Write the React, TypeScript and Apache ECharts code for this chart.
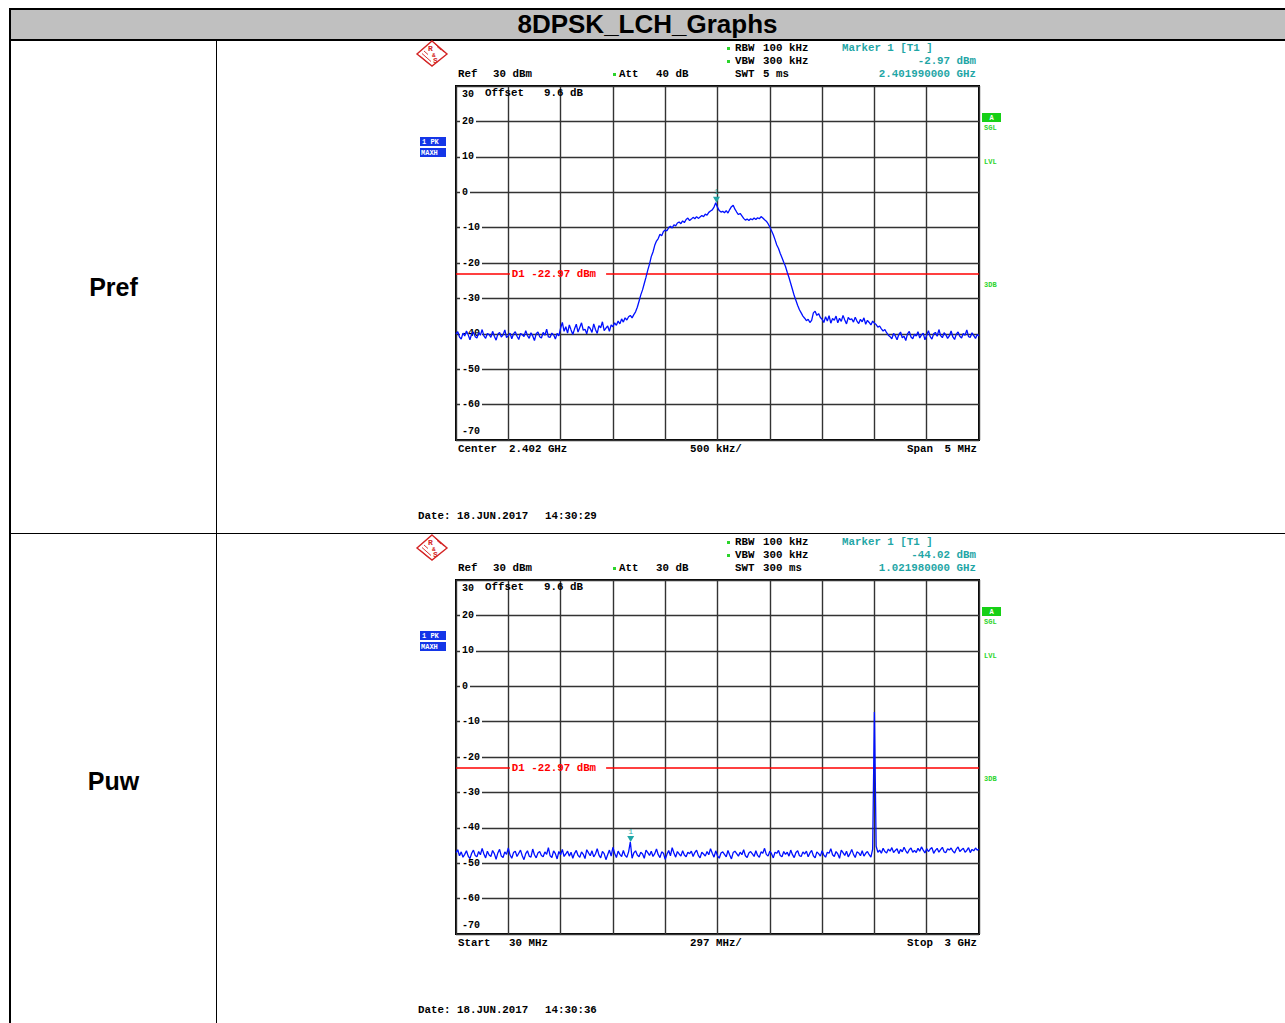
import React, { useEffect, useRef } from 'react';
import * as echarts from 'echarts';

// ---------------- data ----------------
const TITLE = '8DPSK_LCH_Graphs';
const ROW_LABELS = ['Pref', 'Puw'];

const Y_MIN = -70;
const Y_MAX = 30;
const Y_STEP = 10;
const DIVISIONS = 10;

const DISPLAY_LINE_DBM = -22.97;
const DISPLAY_LINE_LABEL = 'D1 -22.97 dBm';

// Pref: centre 2.402 GHz, span 5 MHz (values in MHz), 301 sweep points
const PREF_START_MHZ = 2399.5;
const PREF_STOP_MHZ = 2404.5;
const PREF_TRACE = [
  -40.1, -39.4, -40.9, -41.5, -39.8, -40.6, -39.2, -40.3, -41.7, -40.0,
  -39.5, -40.8, -41.2, -39.7, -40.4, -38.8, -40.6, -41.3, -39.9, -40.2,
  -41.0, -39.3, -40.7, -41.8, -40.1, -39.6, -40.9, -40.3, -38.9, -41.1,
  -40.5, -39.8, -41.4, -40.0, -39.4, -40.7, -41.6, -39.9, -40.2, -40.8,
  -39.1, -40.5, -41.3, -39.7, -40.6, -41.9, -40.0, -39.5, -40.8, -41.2,
  -39.6, -40.4, -38.7, -40.9, -41.0, -39.8, -40.3, -41.5, -39.9, -40.6,
  -38.4, -36.8, -39.3, -38.0, -39.8, -37.5, -38.9, -40.2, -38.6, -37.3,
  -39.5, -38.2, -36.9, -39.0, -38.7, -40.0, -37.9, -38.5, -39.6, -37.2,
  -38.8, -39.9, -37.7, -38.3, -36.6, -39.1, -38.4, -37.8, -39.3, -37.5,
  -38.0, -36.9, -37.6, -36.4, -37.2, -35.8, -36.7, -35.5, -36.1, -35.2,
  -34.8, -35.5, -34.6,
  -33.8, -32.5, -30.8, -29.0, -27.6, -25.8, -24.0, -22.0, -20.3, -18.2,
  -16.9, -15.0, -13.8, -13.1, -11.9, -12.3, -11.1, -10.7, -10.9, -10.0,
  -9.6, -10.1, -9.2, -9.5, -8.7, -8.4, -8.9, -8.1, -8.6, -7.7,
  -7.3, -8.0, -7.6, -7.1, -7.5, -6.9, -7.4, -7.0, -6.6, -6.9,
  -6.2, -6.5, -5.7, -5.3, -5.0, -4.2, -2.97,
  -4.3, -5.2, -5.6, -5.4, -5.8, -5.2, -5.9, -4.9, -4.1, -3.7,
  -4.8, -5.6, -6.3, -6.0, -6.7, -7.4, -7.9, -7.6, -8.0, -7.5,
  -7.8, -7.3, -7.7, -7.2, -7.5, -6.9, -7.3, -7.8, -8.2, -8.9,
  -9.8, -10.9, -12.0, -13.4, -14.9, -15.9, -17.3, -18.5, -19.8, -21.0,
  -22.6, -24.1, -25.8, -27.5, -29.2, -30.6, -32.0, -33.2, -34.1, -35.0,
  -35.6, -36.3, -35.9, -36.8, -36.2, -34.1, -33.6, -34.8, -34.3, -35.4,
  -35.9, -36.8, -35.2, -36.4, -34.9, -37.0, -35.7, -36.2, -35.0, -36.9,
  -35.6, -36.5, -34.8, -36.1, -37.2, -35.4, -36.0, -35.8, -36.7, -35.3,
  -36.4, -37.1, -35.9, -36.6, -35.5, -37.3, -36.2, -36.8, -37.5, -36.4, -37.0,
  -37.4, -38.1, -37.8, -38.6, -39.2, -38.8, -39.7, -40.4,
  -40.8, -41.4, -39.9, -40.6, -41.7, -40.2, -39.5, -41.1, -40.7, -41.9,
  -40.0, -39.3, -40.9, -41.4, -40.1, -40.6, -39.4, -41.2, -40.3, -39.8,
  -41.7, -40.4, -39.1, -40.8, -41.5, -40.0, -39.6, -40.7, -38.8, -40.5,
  -41.1, -39.7, -40.3, -41.3, -40.6, -39.2, -40.9, -41.6, -40.1, -39.5,
  -40.7, -41.2, -39.9, -40.4, -38.9, -40.8, -41.0, -39.7, -40.5, -41.3,
  -40.2, -40.6,
];
const PREF_MARKER = [2401.99, -2.97];

// Puw: start 30 MHz, stop 3 GHz (values in MHz), 301 sweep points
const PUW_START_MHZ = 30;
const PUW_STOP_MHZ = 3000;
const PUW_TRACE = [
  -47.0, -46.2, -47.9, -46.8, -48.3, -47.5, -46.5, -48.0, -48.7, -47.2,
  -46.3, -47.8, -48.2, -46.7, -47.6, -45.8, -47.4, -48.5, -46.6, -47.7,
  -48.1, -46.4, -47.3, -48.9, -47.1, -46.1, -48.0, -48.4, -46.8, -47.5,
  -45.7, -47.7, -48.6, -47.0, -46.6, -48.1, -47.2, -46.3, -47.9, -49.0,
  -47.3, -46.5, -48.0, -48.3, -46.0, -47.6, -48.5, -47.1, -46.7, -47.8,
  -48.2, -46.8, -47.5, -45.6, -47.9, -48.4, -46.5, -47.3, -48.8, -46.7,
  -47.6, -46.1, -48.1, -47.4, -46.6, -48.0, -46.9, -48.6, -47.2, -46.4,
  -47.8, -48.3, -46.8, -47.5, -48.7, -46.2, -47.1, -47.9, -46.5, -48.2,
  -47.4, -45.9, -47.7, -48.5, -46.7, -47.3, -49.0, -47.6, -46.3, -48.0,
  -45.5, -47.2, -48.4, -46.6, -47.5, -48.1, -46.4, -47.8, -48.3, -46.8,
  -44.0, -48.6, -47.1, -46.5, -47.7, -48.2, -46.9, -47.4, -48.6, -46.3,
  -47.0, -47.8, -46.6, -48.1, -47.3, -46.0, -47.6, -48.4, -46.8, -47.2,
  -48.9, -47.5, -46.4, -47.9, -45.6, -47.1, -48.3, -46.7, -47.4, -48.0,
  -46.5, -47.7, -48.2, -46.9, -47.3, -46.6, -48.1, -47.0, -46.3, -47.8,
  -48.5, -46.9, -47.4, -48.0, -46.7, -47.6, -45.9, -47.2, -48.3, -46.5,
  -47.9, -48.6, -47.1, -46.8, -47.5, -48.2, -46.4, -47.7, -48.8, -47.0,
  -46.6, -47.3, -48.0, -46.9, -47.6, -46.2, -47.9, -48.4, -47.1, -46.7,
  -47.4, -48.1, -46.5, -47.8, -48.3, -46.8, -47.2, -45.8, -47.5, -48.0,
  -46.6, -47.3, -48.5, -46.9, -47.2, -46.4, -47.8, -48.2, -46.7, -47.5,
  -46.9, -48.0, -46.3, -47.6, -48.4, -47.0, -46.5, -47.9, -48.1, -46.8,
  -47.4, -46.6, -48.2, -47.1, -46.4, -47.9, -48.5, -46.8, -47.3, -48.0,
  -46.5, -47.7, -48.3, -46.9, -47.2, -45.9, -47.6, -48.1, -46.7, -47.4,
  -48.6, -46.3, -47.0, -47.8, -46.6, -48.2, -47.3, -46.1, -47.5, -48.4,
  -46.8, -47.1, -47.9, -46.5, -48.0, -47.2, -46.7, -47.6, -48.3, -46.0,
  -7.3, -45.2, -46.9, -46.3, -47.2, -45.8, -46.7, -47.1, -46.0, -46.6,
  -45.6, -47.0, -46.4, -45.9, -47.3, -46.1, -46.8, -45.5, -46.5, -47.2,
  -46.2, -45.7, -46.9, -46.4, -47.0, -45.8, -46.6, -45.4, -46.3, -47.1,
  -45.9, -46.7, -46.0, -45.6, -47.2, -46.4, -45.8, -46.9, -46.2, -45.5,
  -46.8, -47.0, -45.9, -46.3, -45.7, -46.6, -47.1, -46.0, -45.4, -46.7,
  -46.2, -45.8, -46.9, -46.4, -45.6, -47.0, -46.1, -46.5, -45.7, -46.3,
  -46.0,
];
const PUW_MARKER = [1021.98, -44.02];

const PREF_TEXTS = {
  rbw: '100 kHz', vbw: '300 kHz', ref: '30 dBm', att: '40 dB', swt: '5 ms',
  markerTitle: 'Marker 1 [T1 ]', markerLevel: '-2.97 dBm', markerFreq: '2.401990000 GHz',
  offset: '9.6 dB',
  left: ['Center', '2.402 GHz'], mid: '500 kHz/', right: ['Span', '5 MHz'],
  date: '18.JUN.2017', time: '14:30:29',
};
const PUW_TEXTS = {
  rbw: '100 kHz', vbw: '300 kHz', ref: '30 dBm', att: '30 dB', swt: '300 ms',
  markerTitle: 'Marker 1 [T1 ]', markerLevel: '-44.02 dBm', markerFreq: '1.021980000 GHz',
  offset: '9.6 dB',
  left: ['Start', '30 MHz'], mid: '297 MHz/', right: ['Stop', '3 GHz'],
  date: '18.JUN.2017', time: '14:30:36',
};

// ---------------- styling / layout ----------------
const MONO = '"Liberation Mono", "DejaVu Sans Mono", monospace';
const FS = 10.8;
const TEAL = '#1fa6a6';
const RED = '#ff0000';
const TRACE_BLUE = '#0010ff';
const GREEN = '#2bd42b';
const BOX_BLUE = '#1436e8';
const GRID_LINE = '#333333';
const LOGO_RED = '#d42424';

const PLOT_LEFT = 456;
const PLOT_W = 523;
const PLOT_H = 354;
const PANEL_TOPS = [86, 580];

function tracePairs(values: number[], start: number, stop: number) {
  const n = values.length;
  return values.map((v, i) => [start + (i * (stop - start)) / (n - 1), v]);
}

function txt(x: number, y: number, text: string, opt: any = {}) {
  const size = opt.size ?? FS;
  return {
    type: 'text',
    x,
    y,
    silent: true,
    z: 50,
    style: {
      text,
      fill: opt.fill ?? '#000',
      font: `bold ${size}px ${MONO}`,
      align: opt.align ?? 'left',
      textAlign: opt.align ?? 'left',
      verticalAlign: 'middle',
      textVerticalAlign: 'middle',
    },
  };
}

function seg(x1: number, y1: number, x2: number, y2: number, stroke: string, w = 1) {
  return { type: 'line', silent: true, z: 50, shape: { x1, y1, x2, y2 }, style: { stroke, lineWidth: w } };
}

function panelGraphics(dy: number, t: typeof PREF_TEXTS) {
  const g: any[] = [];
  // R&S logo (diamond with hatching)
  g.push({
    type: 'polygon', silent: true, z: 50,
    shape: { points: [[432, 41 + dy], [447, 54 + dy], [432, 66 + dy], [417, 54 + dy]] },
    style: { fill: 'none', stroke: LOGO_RED, lineWidth: 1.4 },
  });
  g.push(seg(420, 56 + dy, 429, 64 + dy, LOGO_RED, 0.9));
  g.push(seg(422, 53.5 + dy, 431, 61.5 + dy, LOGO_RED, 0.9));
  g.push(seg(424, 51 + dy, 428, 54.5 + dy, LOGO_RED, 0.9));
  g.push(seg(435, 44 + dy, 444, 52 + dy, LOGO_RED, 0.9));
  g.push(seg(437, 46.5 + dy, 441, 50 + dy, LOGO_RED, 0.9));
  g.push(txt(428, 48 + dy, 'R', { size: 8, fill: LOGO_RED }));
  g.push(txt(432, 55 + dy, '&', { size: 6, fill: LOGO_RED }));
  g.push(txt(433, 60.5 + dy, 'S', { size: 8, fill: LOGO_RED }));

  // header bullets
  g.push({ type: 'rect', silent: true, z: 50, shape: { x: 727, y: 47 + dy, width: 3, height: 3 }, style: { fill: GREEN } });
  g.push({ type: 'rect', silent: true, z: 50, shape: { x: 727, y: 60 + dy, width: 3, height: 3 }, style: { fill: GREEN } });
  g.push({ type: 'rect', silent: true, z: 50, shape: { x: 613, y: 73 + dy, width: 3, height: 3 }, style: { fill: GREEN } });

  g.push(txt(735, 48 + dy, 'RBW'));
  g.push(txt(763, 48 + dy, t.rbw));
  g.push(txt(735, 61 + dy, 'VBW'));
  g.push(txt(763, 61 + dy, t.vbw));
  g.push(txt(735, 74 + dy, 'SWT'));
  g.push(txt(763, 74 + dy, t.swt));
  g.push(txt(458, 74 + dy, 'Ref'));
  g.push(txt(493, 74 + dy, t.ref));
  g.push(txt(619, 74 + dy, 'Att'));
  g.push(txt(656, 74 + dy, t.att));
  g.push(txt(842, 48 + dy, t.markerTitle, { fill: TEAL }));
  g.push(txt(976, 61 + dy, t.markerLevel, { fill: TEAL, align: 'right' }));
  g.push(txt(976, 74 + dy, t.markerFreq, { fill: TEAL, align: 'right' }));
  g.push(txt(485, 93 + dy, 'Offset'));
  g.push(txt(544, 93 + dy, t.offset));

  // left trace boxes
  g.push({ type: 'rect', silent: true, z: 50, shape: { x: 420, y: 137 + dy, width: 26, height: 9 }, style: { fill: BOX_BLUE } });
  g.push({ type: 'rect', silent: true, z: 50, shape: { x: 420, y: 148 + dy, width: 26, height: 9 }, style: { fill: BOX_BLUE } });
  g.push(txt(422, 141.5 + dy, '1 PK', { size: 7, fill: '#fff' }));
  g.push(txt(421, 152.5 + dy, 'MAXH', { size: 7, fill: '#fff' }));

  // right side
  g.push({ type: 'rect', silent: true, z: 50, shape: { x: 982, y: 113 + dy, width: 19, height: 9 }, style: { fill: '#16d016' } });
  g.push(txt(991.5, 117.5 + dy, 'A', { size: 7, fill: '#fff', align: 'center' }));
  g.push(txt(984, 128 + dy, 'SGL', { size: 7, fill: GREEN }));
  g.push(txt(984, 162 + dy, 'LVL', { size: 7, fill: GREEN }));
  g.push(txt(984, 285 + dy, '3DB', { size: 7, fill: GREEN }));

  // bottom
  g.push(txt(458, 449 + dy, t.left[0]));
  g.push(txt(509, 449 + dy, t.left[1]));
  g.push(txt(690, 449 + dy, t.mid));
  g.push(txt(907, 449 + dy, t.right[0]));
  g.push(txt(977, 449 + dy, t.right[1], { align: 'right' }));

  g.push(txt(418, 516 + dy, 'Date:'));
  g.push(txt(457, 516 + dy, t.date));
  g.push(txt(545, 516 + dy, t.time));
  return g;
}

function yAxisFor(gridIndex: number) {
  const lab = { fontFamily: MONO, fontWeight: 'bold', fontSize: 10, color: '#000' };
  return {
    gridIndex,
    type: 'value',
    min: Y_MIN,
    max: Y_MAX,
    interval: Y_STEP,
    axisLine: { show: false },
    axisTick: { show: false },
    splitLine: { show: true, lineStyle: { color: GRID_LINE, width: 1.4 } },
    axisLabel: {
      inside: true,
      margin: 4,
      ...lab,
      verticalAlignMaxLabel: 'top',
      verticalAlignMinLabel: 'bottom',
      formatter: (v: number) =>
        v === Y_MAX ? `{t|${v}}` : v === Y_MIN ? `{m|${v}}` : `{b|${v}}`,
      rich: {
        b: { ...lab, backgroundColor: '#fff', padding: [1, 2, 1, 2] },
        t: { ...lab, padding: [3, 2, 0, 2] },
        m: { ...lab, padding: [0, 2, 4, 2] },
      },
    },
  };
}

function divisionAxis(gridIndex: number) {
  return {
    gridIndex,
    type: 'value',
    min: 0,
    max: DIVISIONS,
    interval: 1,
    axisLine: { show: false },
    axisTick: { show: false },
    axisLabel: { show: false },
    splitLine: { show: true, lineStyle: { color: GRID_LINE, width: 1.4 } },
  };
}

function traceSeries(idx: number, values: number[], start: number, stop: number, marker: number[]) {
  const span = stop - start;
  const atDiv = (d: number) => start + (d * span) / DIVISIONS;
  return {
    type: 'line',
    xAxisIndex: idx * 2 + 1,
    yAxisIndex: idx,
    data: tracePairs(values, start, stop),
    showSymbol: false,
    symbol: 'none',
    lineStyle: { color: TRACE_BLUE, width: 1.3 },
    z: 5,
    markLine: {
      silent: true,
      symbol: ['none', 'none'],
      lineStyle: { color: RED, width: 1.5, type: 'solid', opacity: 1 },
      label: {
        show: true,
        position: 'end',
        distance: 2,
        color: RED,
        fontFamily: MONO,
        fontWeight: 'bold',
        fontSize: FS,
        formatter: (p: any) => (p.dataIndex === 0 ? DISPLAY_LINE_LABEL : ''),
      },
      data: [
        [{ coord: [atDiv(0), DISPLAY_LINE_DBM] }, { coord: [atDiv(1.03), DISPLAY_LINE_DBM] }],
        [{ coord: [atDiv(2.87), DISPLAY_LINE_DBM] }, { coord: [atDiv(10), DISPLAY_LINE_DBM] }],
      ],
    },
    markPoint: {
      silent: true,
      symbol: 'triangle',
      symbolSize: [7, 6],
      symbolRotate: 180,
      symbolOffset: [0, -3],
      itemStyle: { color: TEAL },
      label: {
        show: true,
        position: 'top',
        distance: 1,
        formatter: '1',
        color: TEAL,
        fontFamily: MONO,
        fontSize: 8,
      },
      data: [{ coord: marker }],
    },
  };
}

export default function App() {
  const ref = useRef<HTMLDivElement>(null);

  useEffect(() => {
    if (!ref.current) return;
    const chart = echarts.init(ref.current, null, { renderer: 'svg', width: 1285, height: 1023 });
    const option: any = {
      animation: false,
      grid: PANEL_TOPS.map((top) => ({
        left: PLOT_LEFT,
        top,
        width: PLOT_W,
        height: PLOT_H,
        show: true,
        borderColor: '#000',
        borderWidth: 2,
        backgroundColor: 'transparent',
        containLabel: false,
      })),
      xAxis: [
        divisionAxis(0),
        { gridIndex: 0, type: 'value', min: PREF_START_MHZ, max: PREF_STOP_MHZ, show: false },
        divisionAxis(1),
        { gridIndex: 1, type: 'value', min: PUW_START_MHZ, max: PUW_STOP_MHZ, show: false },
      ],
      yAxis: [yAxisFor(0), yAxisFor(1)],
      series: [
        traceSeries(0, PREF_TRACE, PREF_START_MHZ, PREF_STOP_MHZ, PREF_MARKER),
        traceSeries(1, PUW_TRACE, PUW_START_MHZ, PUW_STOP_MHZ, PUW_MARKER),
      ],
      graphic: [
        ...panelGraphics(0, PREF_TEXTS),
        ...panelGraphics(PANEL_TOPS[1] - PANEL_TOPS[0], PUW_TEXTS),
      ],
    };
    chart.setOption(option);
    return () => chart.dispose();
  }, []);

  const abs = (s: React.CSSProperties): React.CSSProperties => ({ position: 'absolute', ...s });

  return (
    <div
      style={abs({
        left: 0,
        top: 0,
        width: 1285,
        height: 1023,
        overflow: 'hidden',
        background: '#fff',
        fontFamily: '"Liberation Sans", Arial, sans-serif',
      })}
    >
      {/* table */}
      <div style={abs({ left: 10, top: 9, width: 1290, height: 30, background: '#c0c0c0' })} />
      <div style={abs({ left: 9, top: 8, width: 1290, height: 2, background: '#000' })} />
      <div style={abs({ left: 9, top: 39, width: 1290, height: 2, background: '#000' })} />
      <div style={abs({ left: 9, top: 8, width: 2, height: 1030, background: '#000' })} />
      <div style={abs({ left: 216, top: 40, width: 1, height: 1000, background: '#000' })} />
      <div style={abs({ left: 9, top: 533, width: 1290, height: 1, background: '#000' })} />
      <div
        style={abs({
          left: 9,
          top: 9,
          width: 1277,
          height: 30,
          lineHeight: '30px',
          textAlign: 'center',
          fontWeight: 'bold',
          fontSize: 26,
          color: '#000',
        })}
      >
        {TITLE}
      </div>
      <div style={abs({ left: 10, top: 270, width: 207, height: 34, lineHeight: '34px', textAlign: 'center', fontWeight: 'bold', fontSize: 25 })}>
        {ROW_LABELS[0]}
      </div>
      <div style={abs({ left: 10, top: 764, width: 207, height: 34, lineHeight: '34px', textAlign: 'center', fontWeight: 'bold', fontSize: 25 })}>
        {ROW_LABELS[1]}
      </div>
      <div ref={ref} style={abs({ left: 0, top: 0, width: 1285, height: 1023, zIndex: 1 })} />
    </div>
  );
}
